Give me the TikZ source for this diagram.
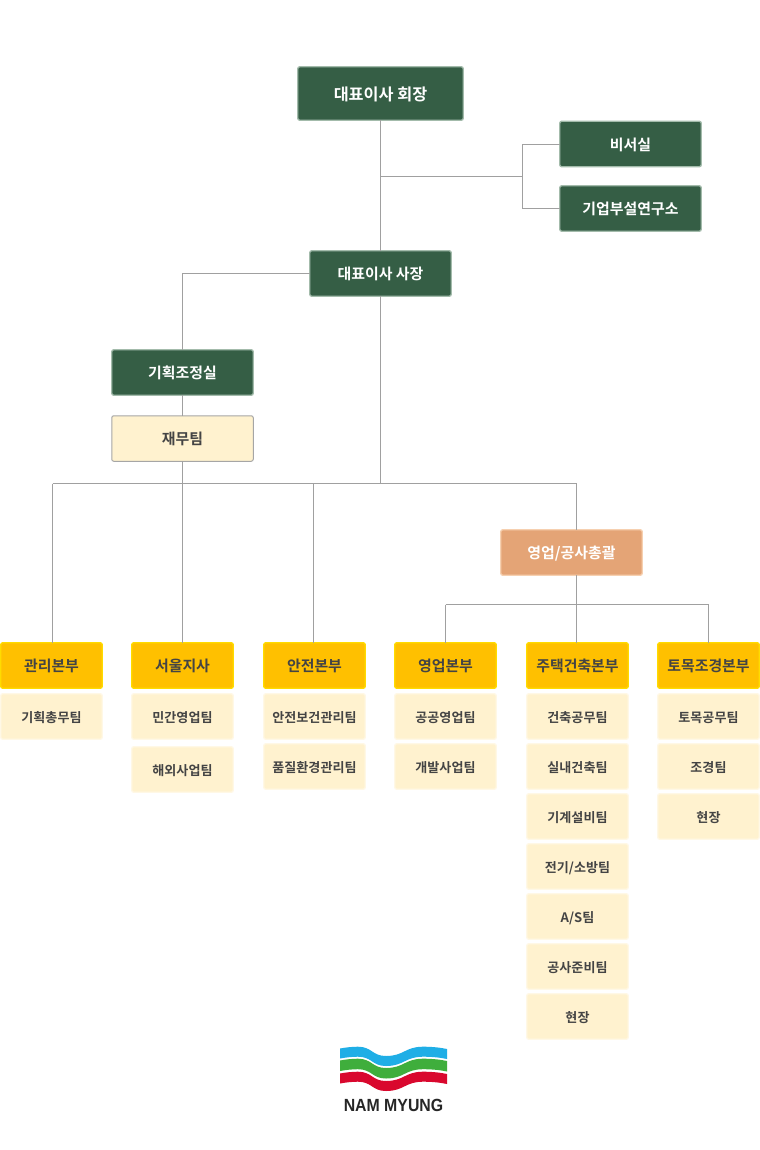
\documentclass[tikz,border=0pt]{standalone}
\usepackage{fontspec}
\setmainfont{Noto Sans CJK KR}[BoldFont={Noto Sans CJK KR Bold}]
\newfontfamily\logofont{Liberation Sans}[BoldFont={Liberation Sans Bold}]
\definecolor{dkgreen}{HTML}{355E45}
\definecolor{dkgreenb}{HTML}{A3BBAB}
\definecolor{lnk}{HTML}{A0A0A0}
\definecolor{amber}{HTML}{FFC000}
\definecolor{amberb}{HTML}{FFDB00}
\definecolor{cream}{HTML}{FFF2CF}
\definecolor{creamb}{HTML}{FFF8E6}
\definecolor{peach}{HTML}{E4A476}
\definecolor{peachb}{HTML}{F6D0B0}
\definecolor{txt}{HTML}{444444}
\definecolor{logoblue}{HTML}{1FAEE6}
\definecolor{logogreen}{HTML}{3FAE3C}
\definecolor{logored}{HTML}{D9082E}
\tikzset{
 x=0.75pt,y=-0.75pt,
 boxbase/.style={rectangle,rounded corners=1.5pt,line width=1pt,outer sep=0pt,inner sep=0pt,align=center},
 big/.style={font=\bfseries\fontsize{12.2}{14}\selectfont,text height=10.6pt,text depth=0pt},
 mid/.style={font=\bfseries\fontsize{11.2}{14}\selectfont,text height=9.6pt,text depth=0pt},
 small/.style={font=\bfseries\fontsize{9.8}{12}\selectfont,text height=9.2pt,text depth=0pt},
 wide/.style={minimum width=141.5*0.75pt,minimum height=45.5*0.75pt},
 exec/.style={boxbase,wide,mid,fill=dkgreen,draw=dkgreenb,text=white},
 finance/.style={boxbase,wide,mid,fill=cream,draw=gray!70,line width=0.75pt,text=txt},
 general/.style={boxbase,wide,mid,fill=peach,draw=peachb,text=white},
 division/.style={boxbase,minimum width=101.5*0.75pt,minimum height=45.5*0.75pt,mid,fill=amber,draw=amberb,text=txt},
 team/.style={boxbase,minimum width=101.5*0.75pt,minimum height=45.5*0.75pt,small,fill=cream,draw=creamb,text=txt},
 link/.style={draw=lnk,line width=0.75pt},
}
\newcommand{\logoband}[3]{%
 \fill[#1,yshift=-#2*0.75pt] (340,1048.5) .. controls (346,1047.4) and (352,1046.7) .. (358,1046.7) .. controls (372,1046.7) and (372,1056) .. (386,1056) .. controls (404,1056) and (405,1046.7) .. (423,1046.7) .. controls (432,1046.7) and (440,1047.5) .. (447,1049)
 -- (447,1049+#3) .. controls (440,1047.5+#3) and (432,1046.7+#3) .. (423,1046.7+#3) .. controls (405,1046.7+#3) and (404,1056+#3) .. (386,1056+#3) .. controls (372,1056+#3) and (372,1046.7+#3) .. (358,1046.7+#3) .. controls (352,1046.7+#3) and (346,1047.4+#3) .. (340,1048.5+#3) -- cycle;}
\begin{document}
\begin{tikzpicture}
\useasboundingbox (0,0) rectangle (760,1150);
\fill[white] (0,0) rectangle (760,1150);
% boxes
\node[exec,big,minimum width=165.5*0.75pt,minimum height=53.5*0.75pt] (chair) at (380.5,93.5) {대표이사 회장};
\node[exec] (sec) at (630.5,144) {비서실};
\node[exec] (lab) at (630.5,208.5) {기업부설연구소};
\node[exec] (pres) at (380.5,273.5) {대표이사 사장};
\node[exec] (plan) at (182.5,372.5) {기획조정실};
\node[finance] (fin) at (182.5,438.5) {재무팀};
\node[general] (gen) at (571.5,552.5) {영업/공사총괄};
\node[division] (d1) at (51.5,665.5) {관리본부};
\node[division] (d2) at (182.5,665.5) {서울지사};
\node[division] (d3) at (314.5,665.5) {안전본부};
\node[division] (d4) at (445.5,665.5) {영업본부};
\node[division] (d5) at (577.5,665.5) {주택건축본부};
\node[division] (d6) at (708.5,665.5) {토목조경본부};
\node[team] (t11) at (51.5,716.5) {기획총무팀};
\node[team] (t21) at (182.5,716.5) {민간영업팀};
\node[team] (t22) at (182.5,769.5) {해외사업팀};
\node[team] (t31) at (314.5,716.5) {안전보건관리팀};
\node[team] (t32) at (314.5,766.5) {품질환경관리팀};
\node[team] (t41) at (445.5,716.5) {공공영업팀};
\node[team] (t42) at (445.5,766.5) {개발사업팀};
\node[team] (t51) at (577.5,716.5) {건축공무팀};
\node[team] (t52) at (577.5,766.5) {실내건축팀};
\node[team] (t53) at (577.5,816.5) {기계설비팀};
\node[team] (t54) at (577.5,866.5) {전기/소방팀};
\node[team] (t55) at (577.5,916.5) {A/S팀};
\node[team] (t56) at (577.5,966.5) {공사준비팀};
\node[team] (t57) at (577.5,1016.5) {현장};
\node[team] (t61) at (708.5,716.5) {토목공무팀};
\node[team] (t62) at (708.5,766.5) {조경팀};
\node[team] (t63) at (708.5,816.5) {현장};
% junctions
\coordinate (jstaff) at (380.5,176.5);
\coordinate (jstaffv) at (522.5,176.5);
\coordinate (jbus) at (380.5,483.5);
\coordinate (jbusl) at (52.5,483.5);
\coordinate (jbusr) at (576.5,483.5);
\coordinate (jsafe) at (313.5,483.5);
\coordinate (jgenl) at (445.5,604.5);
\coordinate (jgenr) at (708.5,604.5);
% connectors
\draw[link] (chair.south) -- (pres.north);
\draw[link] (jstaff) -- (jstaffv);
\draw[link] (sec.west) -| (jstaffv);
\draw[link] (lab.west) -| (jstaffv);
\draw[link] (pres.west) -| (plan.north);
\draw[link] (plan.south) -- (fin.north);
\draw[link] (fin.south) -- (d2.north);
\draw[link] (pres.south) -- (jbus);
\draw[link] (jbusl) -- (jbusr);
\draw[link] (jbusl) -- (d1.north -| jbusl);
\draw[link] (jsafe) -- (d3.north -| jsafe);
\draw[link] (jbusr) -- (jbusr |- gen.north);
\draw[link] (jbusr |- gen.south) -- (jbusr |- d5.north);
\draw[link] (jgenl) -- (jgenr);
\draw[link] (jgenl) -- (d4.north);
\draw[link] (jgenr) -- (d6.north);
% logo
\logoband{logoblue}{0}{10}
\logoband{logogreen}{12}{10.5}
\logoband{logored}{25}{10}
\node[inner sep=0pt,text=black!85,font=\logofont\bfseries\fontsize{13.2}{15}\selectfont] (logo) at (393.5,1105.5) {\scalebox{0.9}[1]{NAM MYUNG}};
\end{tikzpicture}
\end{document}
